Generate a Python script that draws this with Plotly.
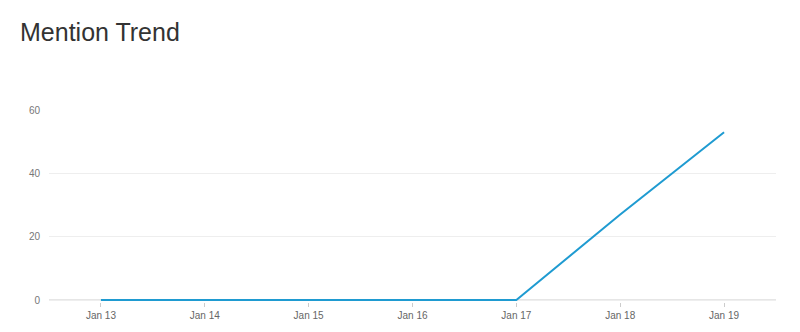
import plotly.graph_objects as go

dates = ["2024-01-13", "2024-01-14", "2024-01-15", "2024-01-16", "2024-01-17", "2024-01-18", "2024-01-19"]
mentions = [0, 0, 0, 0, 0, 27, 53]
tick_labels = ["Jan 13", "Jan 14", "Jan 15", "Jan 16", "Jan 17", "Jan 18", "Jan 19"]
y_ticks = [0, 20, 40, 60]

fig = go.Figure()
fig.add_trace(go.Scatter(x=dates, y=mentions, mode="lines",
                         line=dict(color="#1f9bd1", width=2), hoverinfo="x+y"))

fig.update_layout(
    width=800, height=332,
    margin=dict(l=49, r=24, t=110, b=30),
    paper_bgcolor="white", plot_bgcolor="white",
    showlegend=False,
    font=dict(family="Liberation Sans, Arial, sans-serif", color="#666"),
    title=dict(text="Mention Trend", xref="container", x=20/800, xanchor="left",
               y=1 - 32/332, yanchor="middle",
               font=dict(size=25, color="#333", family="Liberation Sans, Arial, sans-serif")),
    shapes=[dict(type="line", xref="paper", x0=0, x1=1, yref="y", y0=0, y1=0,
                 line=dict(color="#ccc", width=1), layer="below")],
)
fig.update_xaxes(
    type="date",
    range=["2024-01-12 12:00", "2024-01-19 12:00"],
    tickvals=dates, ticktext=tick_labels,
    showgrid=False, showline=False,
    ticks="outside", ticklen=4, tickcolor="#ccc",
    tickfont=dict(size=10, color="#666"),
    zeroline=False,
)
fig.update_yaxes(
    range=[-0.63, 60], tickvals=y_ticks,
    showgrid=True, gridcolor="#eeeeee", gridwidth=1,
    showline=False, zeroline=False,
    ticks="", ticklabelstandoff=8,
    tickfont=dict(size=10, color="#777"),
)

fig.write_html("out.html")
